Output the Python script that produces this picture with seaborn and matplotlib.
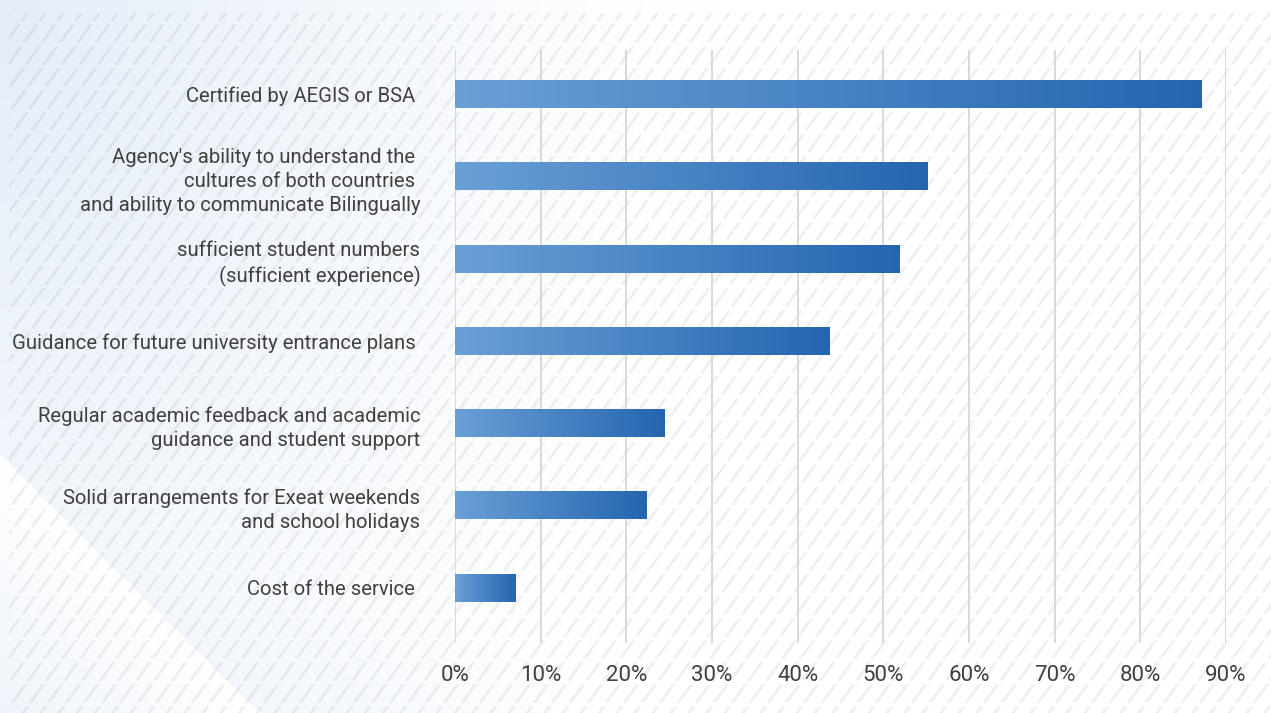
import numpy as np
import pandas as pd
import matplotlib
matplotlib.use("Agg")
import matplotlib.pyplot as plt
import seaborn as sns

# ---- data -------------------------------------------------------------
categories = [
    "Certified by AEGIS or BSA ",
    "Agency's ability to understand the \ncultures of both countries \nand ability to communicate Bilingually",
    "sufficient student numbers\n(sufficient experience)",
    "Guidance for future university entrance plans ",
    "Regular academic feedback and academic\nguidance and student support",
    "Solid arrangements for Exeat weekends\nand school holidays",
    "Cost of the service ",
]
shares = [87.1, 55.2, 51.9, 43.7, 24.4, 22.4, 7.1]
x_ticks = [0, 10, 20, 30, 40, 50, 60, 70, 80, 90]
x_tick_labels = [f"{t}%" for t in x_ticks]

# ---- style ------------------------------------------------------------
sns.set_theme(style="white")
plt.rcParams["font.family"] = ["Roboto", "DejaVu Sans"]
TEXT = "#404040"
GRID = "#d9d9d9"
BAR_LEFT = np.array([0x6a, 0xa0, 0xd6]) / 255
BAR_RIGHT = np.array([0x25, 0x65, 0xb0]) / 255

W, H = 1271, 713
fig = plt.figure(figsize=(W / 100, H / 100), dpi=100)

# ---- decorative background: soft blue wash + diagonal dashed hatching --
yy, xx = np.mgrid[0:H, 0:W].astype(float)
tint = np.array([0xe4, 0xed, 0xf8]) / 255

wash = np.clip(1 - np.sqrt((xx / 720) ** 2 + (yy / 1150) ** 2), 0, 1) ** 1.3
# diagonal edge running from the left side down to the bottom
d = ((yy - 455) - 0.992 * xx) / np.sqrt(1 + 0.992 ** 2)
inside = d > 0
tri_w = np.clip(d / 220, 0, 1) * 0.7
band_w = np.clip(1 + d / 260, 0, 1) * 0.45 * (yy > 380)
weight = np.where(inside, tri_w, np.maximum(wash, band_w))
img = 1 - weight[..., None] * (1 - tint)

ang = np.deg2rad(54)
period = 18 * np.sin(ang)
p = xx * np.sin(ang) + yy * np.cos(ang)
dist = np.abs(((p + period / 2) % period) - period / 2)
stripe = np.clip(1.9 - dist, 0, 1)
gy = np.abs(((yy + 11) % 22) - 11)
stripe *= np.clip(gy - 1.3, 0, 1)
stripe *= (xx >= 9) & (yy >= 13)
img = img * (1 - 0.06 * stripe[..., None])

bg = fig.add_axes([0, 0, 1, 1], zorder=-10)
bg.imshow(img, extent=[0, W, H, 0], aspect="auto", interpolation="nearest")
bg.set_axis_off()

# ---- chart ------------------------------------------------------------
ax = fig.add_axes([455 / W, 1 - 643 / H, (1226 - 455) / W, (643 - 50) / H], zorder=1)
ax.set_facecolor("none")

df = pd.DataFrame({"category": categories, "share": shares})
sns.barplot(data=df, x="share", y="category", orient="h", ax=ax,
            width=0.33, color="#4a86c8", saturation=1)

# horizontal light-to-dark gradient on every bar
grad = np.linspace(0, 1, 256)[None, :, None]
grad = BAR_LEFT + (BAR_RIGHT - BAR_LEFT) * grad
for patch in list(ax.patches):
    x0, y0 = patch.get_x(), patch.get_y()
    w, h = patch.get_width(), patch.get_height()
    ax.imshow(grad, extent=[x0, x0 + w, y0 + h, y0], aspect="auto",
              interpolation="bilinear", zorder=3)
    patch.set_visible(False)

ax.set_xlim(0, 90)
ax.set_ylim(6.669, -0.541)
ax.set_xticks(x_ticks)
ax.set_xticklabels(x_tick_labels)
ax.grid(axis="x", color=GRID, linewidth=1.4)
ax.grid(axis="y", visible=False)
ax.set_axisbelow(True)
for s in ax.spines.values():
    s.set_visible(False)
ax.set_xlabel("")
ax.set_ylabel("")
ax.tick_params(axis="x", length=0, pad=16, labelsize=16, labelcolor=TEXT)
ax.tick_params(axis="y", length=0, pad=25, labelsize=14.6, labelcolor=TEXT)
for lab in ax.get_yticklabels():
    lab.set_linespacing(1.34)

fig.savefig("out.png", dpi=100)
